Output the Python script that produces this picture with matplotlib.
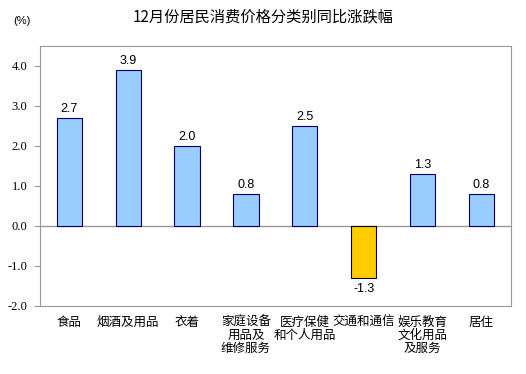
import numpy as np
import matplotlib.pyplot as plt

plt.rcParams['font.family'] = ['Noto Sans CJK SC', 'DejaVu Sans']

categories = ['食品', '烟酒及用品', '衣着', '家庭设备\n用品及\n维修服务', '医疗保健\n和个人用品',
              '交通和通信', '娱乐教育\n文化用品\n及服务', '居住']
values = [2.7, 3.9, 2.0, 0.8, 2.5, -1.3, 1.3, 0.8]
yticks = [-2.0, -1.0, 0.0, 1.0, 2.0, 3.0, 4.0]

fig = plt.figure(figsize=(5.26, 3.74), dpi=100)
ax = fig.add_axes([0.076, 0.182, 0.895, 0.695])

x = np.arange(len(categories))
colors = ['#99CCFF' if v >= 0 else '#FFCC00' for v in values]
edges = ['#000066' if v >= 0 else '#000000' for v in values]
ax.bar(x, values, width=0.43, color=colors, edgecolor=edges, linewidth=0.8, zorder=3)

for xi, v in zip(x, values):
    off = 0.08 if v >= 0 else -0.12
    ax.text(xi, v + off, f'{v:.1f}', ha='center', va='bottom' if v >= 0 else 'top',
            fontsize=9, family='Liberation Sans')

ax.axhline(0, color='#999999', linewidth=1, zorder=2)
ax.set_xlim(-0.5, len(categories) - 0.5)
ax.set_ylim(-2.0, 4.5)
ax.set_yticks(yticks)
ax.set_yticklabels([f'{t:.1f}' for t in yticks], family='Liberation Serif', fontsize=9)
ax.set_xticks(x)
ax.set_xticklabels(categories, fontsize=9, linespacing=1.0)
ax.tick_params(axis='x', length=0, pad=7)
ax.tick_params(axis='y', length=4, color='#999999', direction='out', pad=5)
for s in ax.spines.values():
    s.set_color('#999999')

fig.text(0.5, 0.955, '12月份居民消费价格分类别同比涨跌幅', ha='center', va='center', fontsize=11)
fig.text(0.025, 0.945, '(%)', ha='left', va='center', fontsize=8, family='Liberation Sans')

fig.savefig('out.png', dpi=100)
